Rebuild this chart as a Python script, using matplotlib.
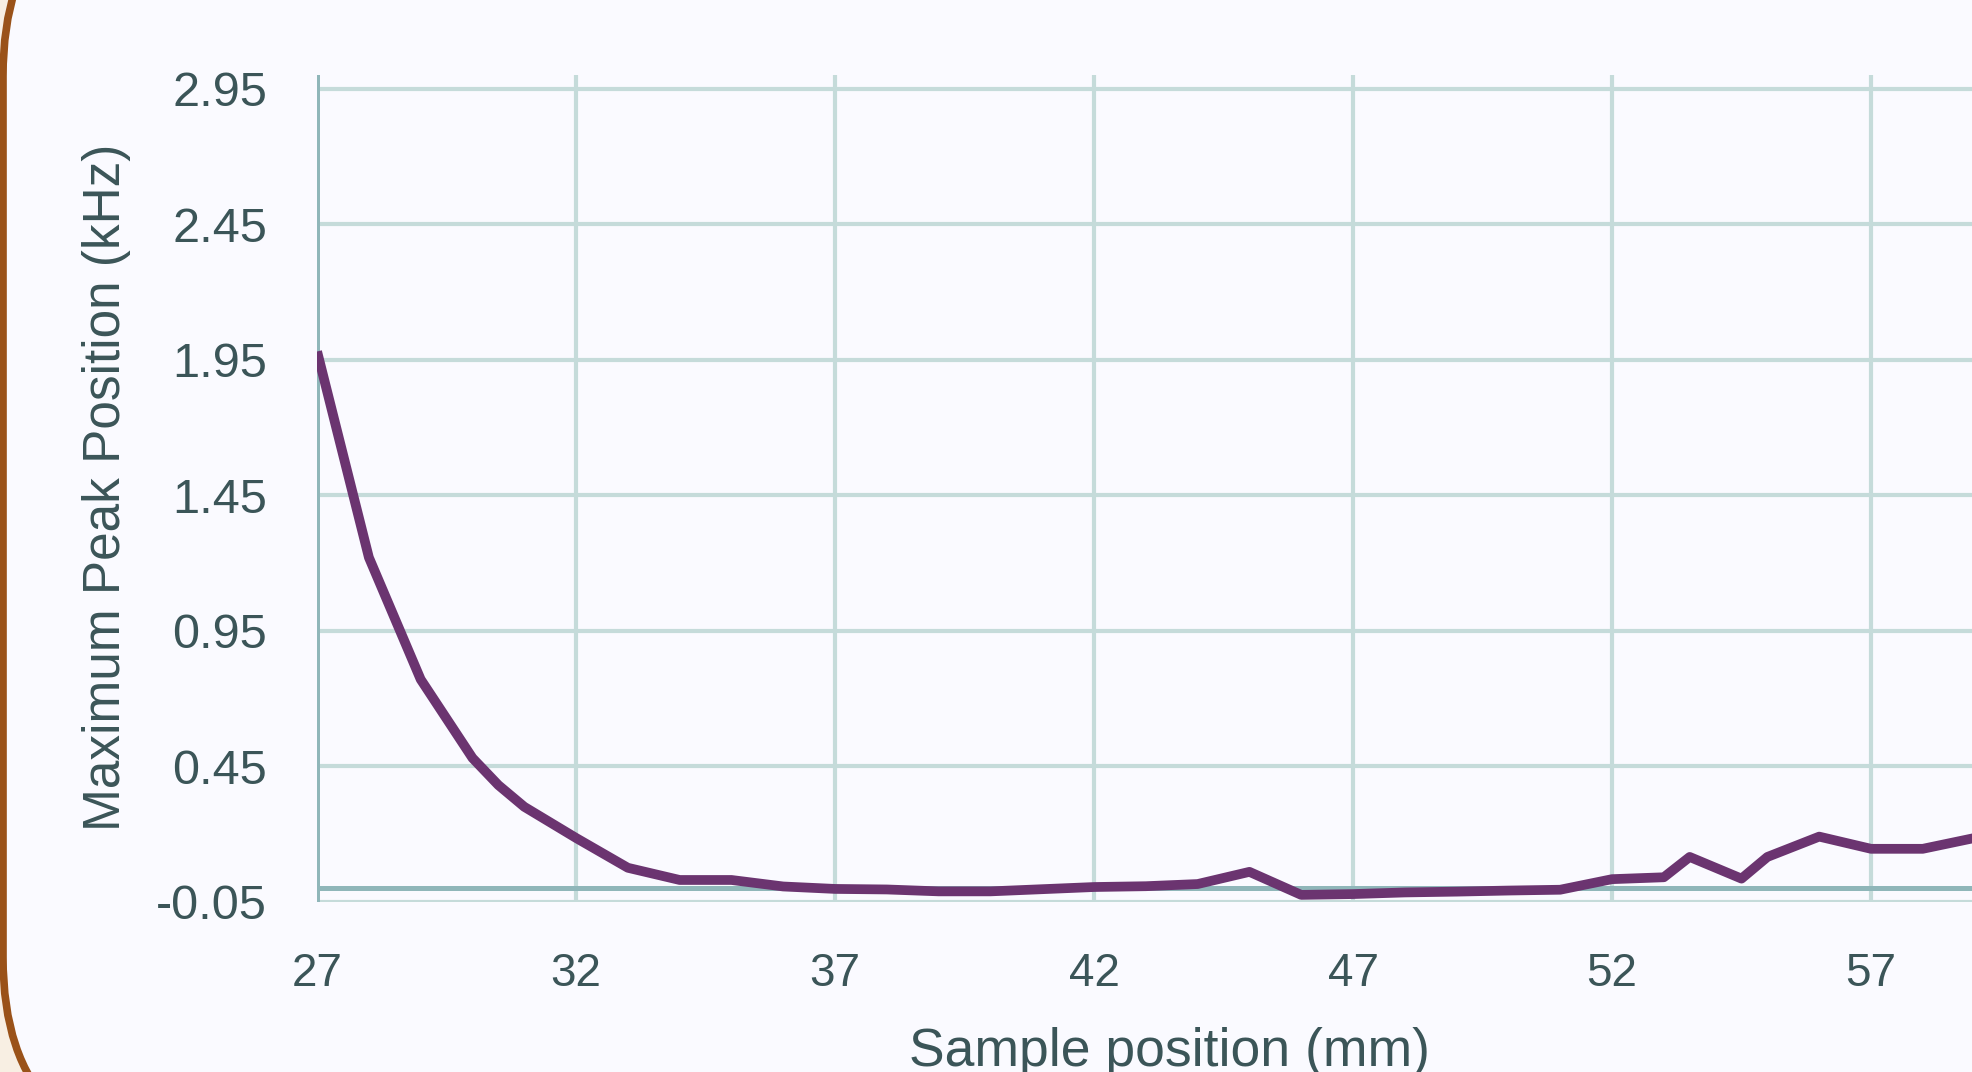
import matplotlib.pyplot as plt
from matplotlib.patches import FancyBboxPatch

plt.rcParams['font.family'] = ['Liberation Sans', 'DejaVu Sans']

# sample position (mm) and maximum peak position (kHz)
position = [27, 28, 29, 30, 30.5, 31, 32, 33, 34, 35, 36, 37, 38, 39, 40, 41, 42, 43, 44,
            45, 46, 47, 48, 49, 50, 51, 52, 53, 53.5, 54.5, 55, 56, 57, 58, 59]
peak_khz = [1.98, 1.22, 0.77, 0.48, 0.38, 0.30, 0.185, 0.075, 0.03, 0.03, 0.006, -0.003,
            -0.005, -0.012, -0.012, -0.004, 0.004, 0.007, 0.015, 0.06, -0.025, -0.022,
            -0.016, -0.013, -0.009, -0.006, 0.033, 0.04, 0.115, 0.035, 0.115, 0.19,
            0.145, 0.145, 0.185]

x_ticks = [27, 32, 37, 42, 47, 52, 57]
y_ticks = [-0.05, 0.45, 0.95, 1.45, 1.95, 2.45, 2.95]
y_labels = ['-0.05', '0.45', '0.95', '1.45', '1.95', '2.45', '2.95']

text_col = '#3b5558'
grid_col = '#c5dbda'
axis_col = '#8fb6b9'

fig = plt.figure(figsize=(19.72, 10.72), dpi=100)
fig.patch.set_facecolor('#f8efe3')

# card with rounded corners, only its left side is in view
card = FancyBboxPatch((0.03, -0.855), 25, 12.815, boxstyle='round,pad=0,rounding_size=2.0',
                      transform=fig.dpi_scale_trans, facecolor='#fafaff',
                      edgecolor='#9a5219', linewidth=5.5, zorder=0)
fig.add_artist(card)

ax = fig.add_axes([0.1608, 0.1589, 0.8392, 0.7711])
ax.set_facecolor('none')
for s in ax.spines.values():
    s.set_visible(False)

ax.set_xlim(27, 58.95)
ax.set_ylim(-0.05, 3.0)
ax.set_xticks(x_ticks)
ax.set_yticks(y_ticks)
ax.set_yticklabels(y_labels)
ax.tick_params(length=0, pad=36, colors=text_col)
ax.tick_params(axis='y', labelsize=35)
ax.tick_params(axis='x', labelsize=33)
ax.grid(True, color=grid_col, linewidth=3)
ax.set_axisbelow(True)

ax.axvline(27, color=axis_col, linewidth=3.6, zorder=2)
ax.axhline(0, color=axis_col, linewidth=3.6, zorder=2)

ax.plot(position, peak_khz, color='#6b3470', linewidth=7,
        solid_capstyle='butt', solid_joinstyle='round', zorder=3)

fig.text(0.054, 0.545, 'Maximum Peak Position (kHz)', rotation=90, ha='center',
         va='center', fontsize=37, color=text_col)
fig.text(0.593, 0.0056, 'Sample position (mm)', ha='center', va='baseline',
         fontsize=38.5, color=text_col)

fig.savefig('out.png', dpi=100, facecolor=fig.get_facecolor())
